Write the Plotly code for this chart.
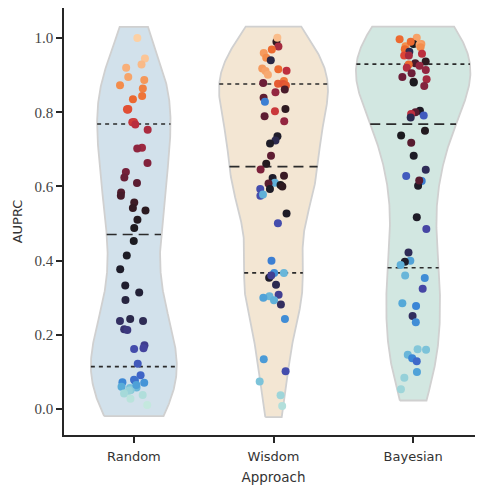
import numpy as np
import plotly.graph_objects as go

categories = ["Random", "Wisdom", "Bayesian"]

random_vals = [1.000, 0.945, 0.929, 0.920, 0.895, 0.887, 0.873, 0.864, 0.844, 0.835,
               0.809, 0.807, 0.808, 0.773, 0.774, 0.767, 0.753, 0.704, 0.702, 0.663,
               0.639, 0.624, 0.609, 0.584, 0.575, 0.557, 0.542, 0.535, 0.510, 0.488,
               0.453, 0.414, 0.377, 0.333, 0.314, 0.294, 0.243, 0.237, 0.237, 0.215,
               0.213, 0.172, 0.162, 0.164, 0.122, 0.091, 0.072, 0.076, 0.079, 0.071,
               0.057, 0.058, 0.060, 0.051, 0.049, 0.042, 0.038, 0.028, 0.011, 0.065]

wisdom_vals = [0.990, 1.001, 0.977, 0.960, 0.969, 0.947, 0.940, 0.918, 0.912, 0.911,
               0.916, 0.901, 0.884, 0.877, 0.879, 0.876, 0.872, 0.861, 0.854, 0.839,
               0.828, 0.809, 0.803, 0.789, 0.776, 0.735, 0.724, 0.716, 0.683, 0.661,
               0.646, 0.629, 0.623, 0.610, 0.608, 0.604, 0.593, 0.593, 0.575, 0.578,
               0.527, 0.501, 0.400, 0.367, 0.367, 0.354, 0.335, 0.308, 0.304, 0.293,
               0.282, 0.243, 0.134, 0.102, 0.074, 0.037, 0.008, 0.300, 0.360, 0.600]
wisdom_hue = [0.55, 0.97, 0.72, 0.92, 0.85, 0.90, 0.40, 0.92, 0.75, 0.93,
              0.85, 0.94, 0.87, 0.83, 0.65, 0.82, 0.83, 0.60, 0.70, 0.63,
              0.20, 0.55, 0.77, 0.63, 0.70, 0.45, 0.38, 0.47, 0.63, 0.52,
              0.67, 0.57, 0.45, 0.13, 0.62, 0.50, 0.27, 0.47, 0.27, 0.13,
              0.47, 0.27, 0.20, 0.18, 0.12, 0.45, 0.38, 0.30, 0.12, 0.13,
              0.36, 0.18, 0.16, 0.27, 0.10, 0.06, 0.03, 0.15, 0.30, 0.55]

bayes_vals = [0.997, 1.001, 0.984, 0.984, 0.981, 0.978, 0.970, 0.963, 0.953, 0.953,
              0.937, 0.932, 0.929, 0.920, 0.914, 0.905, 0.889, 0.882, 0.880, 0.871,
              0.804, 0.800, 0.795, 0.791, 0.786, 0.750, 0.737, 0.718, 0.683, 0.645,
              0.628, 0.615, 0.602, 0.616, 0.517, 0.485, 0.422, 0.400, 0.397, 0.388,
              0.360, 0.353, 0.324, 0.285, 0.278, 0.251, 0.234, 0.161, 0.146, 0.160,
              0.137, 0.129, 0.100, 0.084, 0.053, 0.990, 0.975, 0.958, 0.925, 0.895]
bayes_hue = [0.85, 0.93, 0.92, 0.50, 0.93, 0.90, 0.85, 0.38, 0.80, 0.72,
             0.55, 0.60, 0.85, 0.74, 0.70, 0.65, 0.72, 0.60, 0.50, 0.68,
             0.48, 0.62, 0.75, 0.25, 0.38, 0.52, 0.50, 0.62, 0.47, 0.37,
             0.25, 0.20, 0.47, 0.62, 0.47, 0.28, 0.37, 0.15, 0.45, 0.13,
             0.12, 0.18, 0.28, 0.14, 0.19, 0.36, 0.18, 0.09, 0.12, 0.10,
             0.19, 0.23, 0.15, 0.07, 0.06, 0.85, 0.90, 0.75, 0.70, 0.65]

# hue for Random: datasets ordered by their Random score
_r = np.array(random_vals)
random_hue = list(np.argsort(np.argsort(_r)) / (len(_r) - 1))

y_ticks = [0.0, 0.2, 0.4, 0.6, 0.8, 1.0]

violin_fill = ["#d2e1eb", "#f3e6d3", "#d2e7e1"]
icefire = [[0.00, "#c4e8de"], [0.05, "#a6d9d9"], [0.10, "#7cc3d9"], [0.14, "#55a9d8"],
           [0.19, "#3b86d6"], [0.24, "#3f62c6"], [0.28, "#4646a4"], [0.33, "#3a3577"],
           [0.38, "#2c2a4f"], [0.44, "#201e2e"], [0.50, "#1b1a1f"], [0.55, "#2e1a20"],
           [0.60, "#4a1b2a"], [0.65, "#6c1e38"], [0.70, "#932640"], [0.75, "#bd2f3e"],
           [0.80, "#dd4536"], [0.85, "#ec6a30"], [0.90, "#f38d4c"], [0.95, "#f8b07a"],
           [1.00, "#fcd0a4"]]

series = [random_vals, wisdom_vals, bayes_vals]
hues = [random_hue, wisdom_hue, bayes_hue]

HALF_WIDTH = 0.41
BW_ADJUST = 0.9
EXTEND = 0.03


def kde(vals, grid, bw):
    v = np.asarray(vals)[:, None]
    z = (grid[None, :] - v) / bw
    return np.exp(-0.5 * z ** 2).sum(0) / (len(vals) * bw * np.sqrt(2 * np.pi))


dens = []
for vals in series:
    v = np.asarray(vals)
    bw = v.std(ddof=1) * len(v) ** (-0.2) * BW_ADJUST
    grid = np.linspace(v.min() - EXTEND, v.max() + EXTEND, 300)
    dens.append((grid, kde(v, grid, bw)))
gmax = max(d.max() for _, d in dens)

fig = go.Figure()
for i, (vals, (grid, d)) in enumerate(zip(series, dens)):
    w = d / gmax * HALF_WIDTH
    xs = np.concatenate([i - w, (i + w)[::-1], [i - w[0]]])
    ys = np.concatenate([grid, grid[::-1], [grid[0]]])
    fig.add_trace(go.Scatter(x=xs, y=ys, mode="lines", fill="toself",
                             fillcolor=violin_fill[i],
                             line=dict(color="#d0d0d0", width=1.8),
                             hoverinfo="skip", showlegend=False))
    q1, q2, q3 = np.percentile(vals, [25, 50, 75])
    for q, dash in [(q1, "4px,4px"), (q2, "10px,6px"), (q3, "4px,4px")]:
        hw = np.interp(q, grid, w)
        fig.add_trace(go.Scatter(x=[i - hw, i + hw], y=[q, q], mode="lines",
                                 line=dict(color="#2b2b2b", width=1.6, dash=dash),
                                 hoverinfo="skip", showlegend=False))

rng = np.random.default_rng(7)
for i, (vals, hue) in enumerate(zip(series, hues)):
    jit = rng.uniform(-0.1, 0.1, len(vals))
    fig.add_trace(go.Scatter(x=i + jit, y=vals, mode="markers",
                             marker=dict(size=8, color=hue, colorscale=icefire,
                                         cmin=0, cmax=1, line=dict(width=0)),
                             showlegend=False))

# page body adds an 8px offset, so the figure is 8px smaller than the window
fig.update_layout(
    width=475, height=479,
    margin=dict(l=56, r=0, t=0, b=52),
    plot_bgcolor="white", paper_bgcolor="white",
    font=dict(family="DejaVu Sans", size=13, color="#333333"),
)
fig.update_xaxes(range=[-0.5, 2.5], tickvals=[0, 1, 2], ticktext=categories,
                 automargin=False, ticklabelstandoff=3,
                 showline=True, linecolor="#262626", linewidth=1.5,
                 ticks="outside", ticklen=6, tickwidth=1.5, tickcolor="#262626",
                 showgrid=False, zeroline=False,
                 tickfont=dict(family="DejaVu Sans", size=13, color="#333333"),
                 title=dict(text="Approach", standoff=9,
                            font=dict(family="DejaVu Sans", size=13.5, color="#333333")))
fig.update_yaxes(range=[-0.070, 1.081], tickvals=y_ticks, tickformat=".1f",
                 automargin=False,
                 showline=True, linecolor="#262626", linewidth=1.5,
                 ticks="outside", ticklen=6, tickwidth=1.5, tickcolor="#262626",
                 showgrid=False, zeroline=False,
                 tickfont=dict(family="Liberation Serif", size=15, color="#444444"),
                 title=dict(text="AUPRC", standoff=9,
                            font=dict(family="DejaVu Sans", size=13, color="#333333")))

fig.write_html("out.html")
